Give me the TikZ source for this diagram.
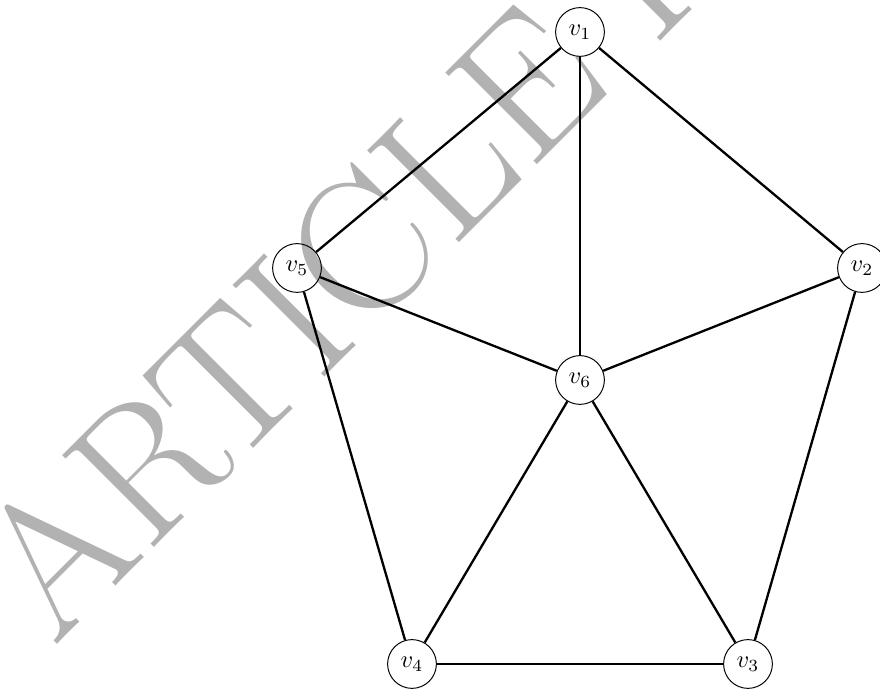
\documentclass[tikz,border=0pt]{standalone}
\begin{document}
\begin{tikzpicture}[x=0.41pt,y=-0.41pt,
  vertex/.style={draw,circle,thin,minimum size=20pt,inner sep=0pt},
  edge/.style={draw,line width=0.95pt},
  watermark/.style={text=black!30,font=\fontsize{78}{78}\selectfont,inner sep=0pt}]
\useasboundingbox (0,0) rectangle (880,691);
\begin{scope}
\clip (0,0) rectangle (880,691);
\node[watermark,anchor=base west,rotate=45] (wm) at (54,648) {ARTICLE IN PRESS};
\end{scope}
\node[vertex] (v1) at (580,32) {$v_1$};
\node[vertex] (v2) at (862,268) {$v_2$};
\node[vertex] (v3) at (748,664) {$v_3$};
\node[vertex] (v4) at (412,664) {$v_4$};
\node[vertex] (v5) at (297,268) {$v_5$};
\node[vertex] (v6) at (580,380) {$v_6$};
\draw[edge] (v1) -- (v2);
\draw[edge] (v1) -- (v5);
\draw[edge] (v1) -- (v6);
\draw[edge] (v2) -- (v6);
\draw[edge] (v2) -- (v3);
\draw[edge] (v5) -- (v6);
\draw[edge] (v5) -- (v4);
\draw[edge] (v6) -- (v4);
\draw[edge] (v6) -- (v3);
\draw[edge] (v4) -- (v3);
\end{tikzpicture}
\end{document}
